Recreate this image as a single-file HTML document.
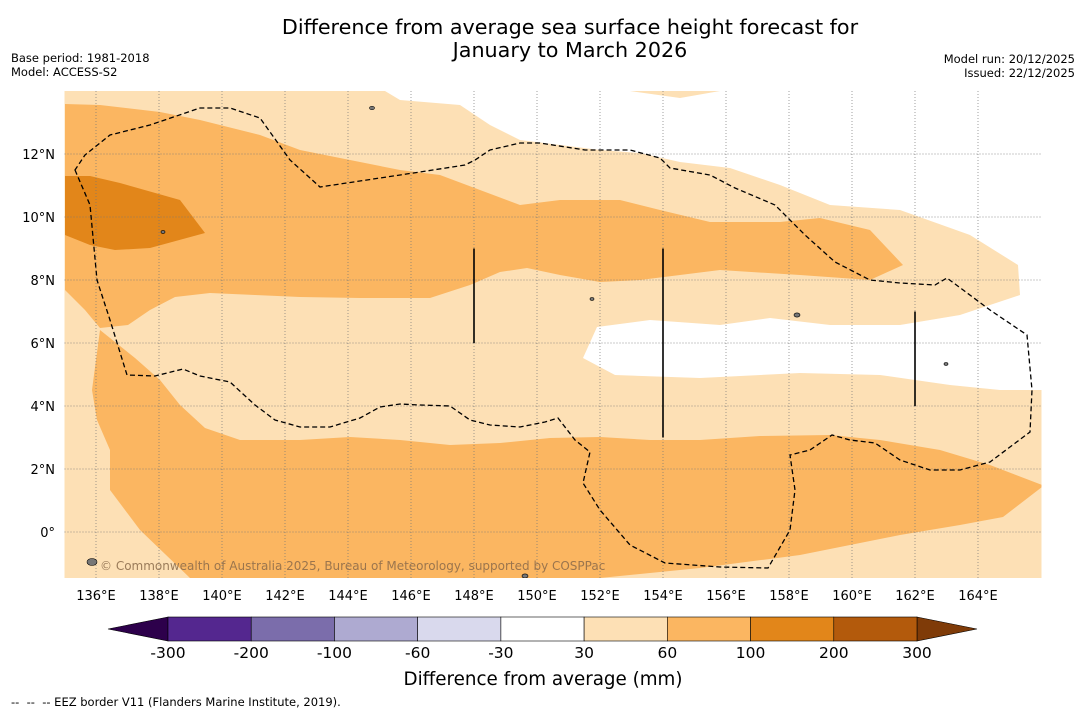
<!DOCTYPE html>
<html><head><meta charset="utf-8"><style>
body{margin:0;background:#fff;font-family:"Liberation Sans","DejaVu Sans",sans-serif}
</style></head><body>
<svg id="chart" width="1085" height="713" xmlns="http://www.w3.org/2000/svg" style="font-family:'DejaVu Sans','Liberation Sans',sans-serif">
<text x="570" y="34" font-size="20.7" text-anchor="middle">Difference from average sea surface height forecast for</text>
<text x="570" y="57" font-size="20.7" text-anchor="middle">January to March 2026</text>
<text x="11" y="62" font-size="11.5">Base period: 1981-2018</text>
<text x="11" y="76" font-size="11.5">Model: ACCESS-S2</text>
<text x="1075" y="63" font-size="11.5" text-anchor="end">Model run: 20/12/2025</text>
<text x="1075" y="77" font-size="11.5" text-anchor="end">Issued: 22/12/2025</text>
<defs><clipPath id="pc"><rect x="64.5" y="91" width="977" height="487"/></clipPath></defs>
<g id="map" clip-path="url(#pc)"></g>
<g id="axes"></g>
<g id="cbar"></g>
<text x="543" y="685" font-size="18.3" text-anchor="middle">Difference from average (mm)</text>
<text x="11" y="706" font-size="11.5">-- &#160;-- &#160;-- EEZ border V11 (Flanders Marine Institute, 2019).</text>
</svg>
<script>
// ---- data ----
const lonTicks=[136,138,140,142,144,146,148,150,152,154,156,158,160,162,164];
const latTicks=[0,2,4,6,8,10,12];
const levels=[-300,-200,-100,-60,-30,30,60,100,200,300];
const levelColors=["#54278f","#7b6dab","#aeaad1","#d9d9ed","#ffffff","#fde0b5","#fbb661","#e2861a","#b35a0c"];
const whiteArea=[[385,91],[400,100],[460,105],[490,125],[520,140],[560,145],[600,150],[640,153],[680,162],[730,168],[780,185],[830,205],[900,210],[970,235],[1018,265],[1020,295],[960,315],[900,325],[830,325],[770,318],[720,325],[650,320],[597,327],[583,358],[615,375],[700,378],[800,373],[880,375],[950,385],[1000,390],[1042,390],[1042,91]];
const lightBlob=[[630,91],[680,98],[720,91]];
const midUpper=[[65,104],[100,105],[160,112],[200,120],[260,135],[300,150],[350,160],[400,170],[440,175],[480,190],[520,205],[560,200],[620,200],[660,210],[710,222],[780,222],[820,218],[870,230],[903,265],[870,280],[800,275],[720,270],[640,280],[600,282],[560,275],[527,268],[500,272],[470,285],[430,298],[360,298],[300,297],[255,295],[210,293],[175,297],[150,310],[128,325],[100,328],[85,310],[65,290]];
const midLower=[[100,330],[135,358],[160,380],[180,405],[205,428],[240,440],[300,440],[350,437],[400,440],[450,445],[500,443],[550,438],[600,437],[650,440],[700,440],[760,436],[830,435],[880,440],[940,450],[990,465],[1042,485],[1042,487],[1003,517],[960,525],[900,535],[800,555],[700,568],[600,578],[190,578],[140,530],[110,490],[110,450],[97,420],[92,390]];
const darkArea=[[65,176],[90,176],[120,183],[180,200],[205,233],[150,248],[115,250],[90,245],[65,235]];
const eez=[[75,170],[90,205],[97,280],[110,320],[127,375],[155,376],[183,369],[200,376],[230,382],[255,405],[275,420],[300,427],[330,427],[360,418],[380,407],[400,404],[420,405],[450,406],[470,420],[490,425],[520,427],[545,422],[558,418],[575,440],[590,452],[583,483],[600,510],[630,545],[665,563],[720,567],[768,568],[790,530],[795,490],[790,455],[810,450],[832,435],[850,440],[875,443],[900,460],[930,470],[960,470],[990,462],[1030,432],[1032,390],[1027,335],[990,310],[947,278],[935,285],[900,283],[870,280],[835,262],[805,235],[775,205],[735,188],[710,175],[670,168],[660,158],[630,150],[585,150],[540,143],[520,143],[490,150],[475,160],[465,165],[420,172],[380,178],[320,187],[290,160],[260,118],[230,108],[200,108],[150,125],[110,135],[85,155]];
const eezSegments=[[148,9,6],[154,9,3],[162,7,4]];
// ---- axes ----
const X=lon=>64.5+(lon-135)*31.5, Y=lat=>91+(14-lat)*31.5;
const toLL=p=>[135+(p[0]-64.5)/31.5,14-(p[1]-91)/31.5];
const NS="http://www.w3.org/2000/svg";
function mk(tag,attrs,parent){const e=document.createElementNS(NS,tag);for(const k in attrs)e.setAttribute(k,attrs[k]);parent.appendChild(e);return e;}
const map=document.getElementById('map'),axes=document.getElementById('axes'),cb=document.getElementById('cbar');
function pts(arr){return arr.map(toLL).map(q=>X(q[0]).toFixed(1)+','+Y(q[1]).toFixed(1)).join(' ');}
let r=mk('rect',{x:64.5,y:91,width:977,height:487,fill:levelColors[5]},map);

let p=mk('polygon',{points:pts(whiteArea),fill:'#ffffff'},map);

p=mk('polygon',{points:pts(lightBlob),fill:levelColors[5]},map);

p=mk('polygon',{points:pts(midUpper),fill:levelColors[6]},map);

p=mk('polygon',{points:pts(midLower),fill:levelColors[6]},map);

p=mk('polygon',{points:pts(darkArea),fill:levelColors[7]},map);

lonTicks.forEach(l=>{const g=mk('line',{x1:X(l),x2:X(l),y1:91,y2:578,stroke:'#777','stroke-width':0.7,'stroke-dasharray':'1,2'},map);

const t=mk('text',{x:X(l),y:600,'font-size':13,'text-anchor':'middle'},axes);t.textContent=l+'°E';
});
latTicks.forEach(l=>{const g=mk('line',{x1:64.5,x2:1041.5,y1:Y(l),y2:Y(l),stroke:'#777','stroke-width':0.7,'stroke-dasharray':'1,2'},map);

const t=mk('text',{x:55,y:Y(l)+5,'font-size':13,'text-anchor':'end'},axes);t.textContent=l===0?'0°':l+'°N';
});
p=mk('polygon',{points:pts(eez),fill:'none',stroke:'#000','stroke-width':1.3,'stroke-dasharray':'5,3'},map);

eezSegments.forEach(s=>{const l=mk('line',{x1:X(s[0]),x2:X(s[0]),y1:Y(s[1]),y2:Y(s[2]),stroke:'#000','stroke-width':1.6},map);
});
[[163,232,2],[797,315,3],[592,299,2],[946,364,2],[372,108,2.5],[92,562,5],[525,576,3]].forEach(q=>{const e=mk('ellipse',{cx:q[0],cy:q[1],rx:q[2],ry:q[2]*0.7,fill:'#777',stroke:'#000','stroke-width':0.6},map);
});
let at=mk('text',{x:100,y:570,'font-size':12,fill:'#8a6a4a','fill-opacity':0.85},map);
at.textContent='© Commonwealth of Australia 2025, Bureau of Meteorology, supported by COSPPac';

// colorbar
const cx0=168,cx1=917,cy=617,ch=24,w=(cx1-cx0)/(levels.length-1);
let tri=mk('polygon',{points:`${cx0},${cy} 108,${cy+ch/2} ${cx0},${cy+ch}`,fill:'#2d004b',stroke:'#000','stroke-width':0.6},cb);

tri=mk('polygon',{points:`${cx1},${cy} 977,${cy+ch/2} ${cx1},${cy+ch}`,fill:'#7f3b08',stroke:'#000','stroke-width':0.6},cb);

levelColors.forEach((c,i)=>{const b=mk('rect',{x:cx0+i*w,y:cy,width:w,height:ch,fill:c,stroke:'#000','stroke-width':0.6},cb);
});
levels.forEach((v,i)=>{const t=mk('text',{x:cx0+i*w,y:658,'font-size':15.5,'text-anchor':'middle'},cb);t.textContent=v;
});
</script>
</body></html>
